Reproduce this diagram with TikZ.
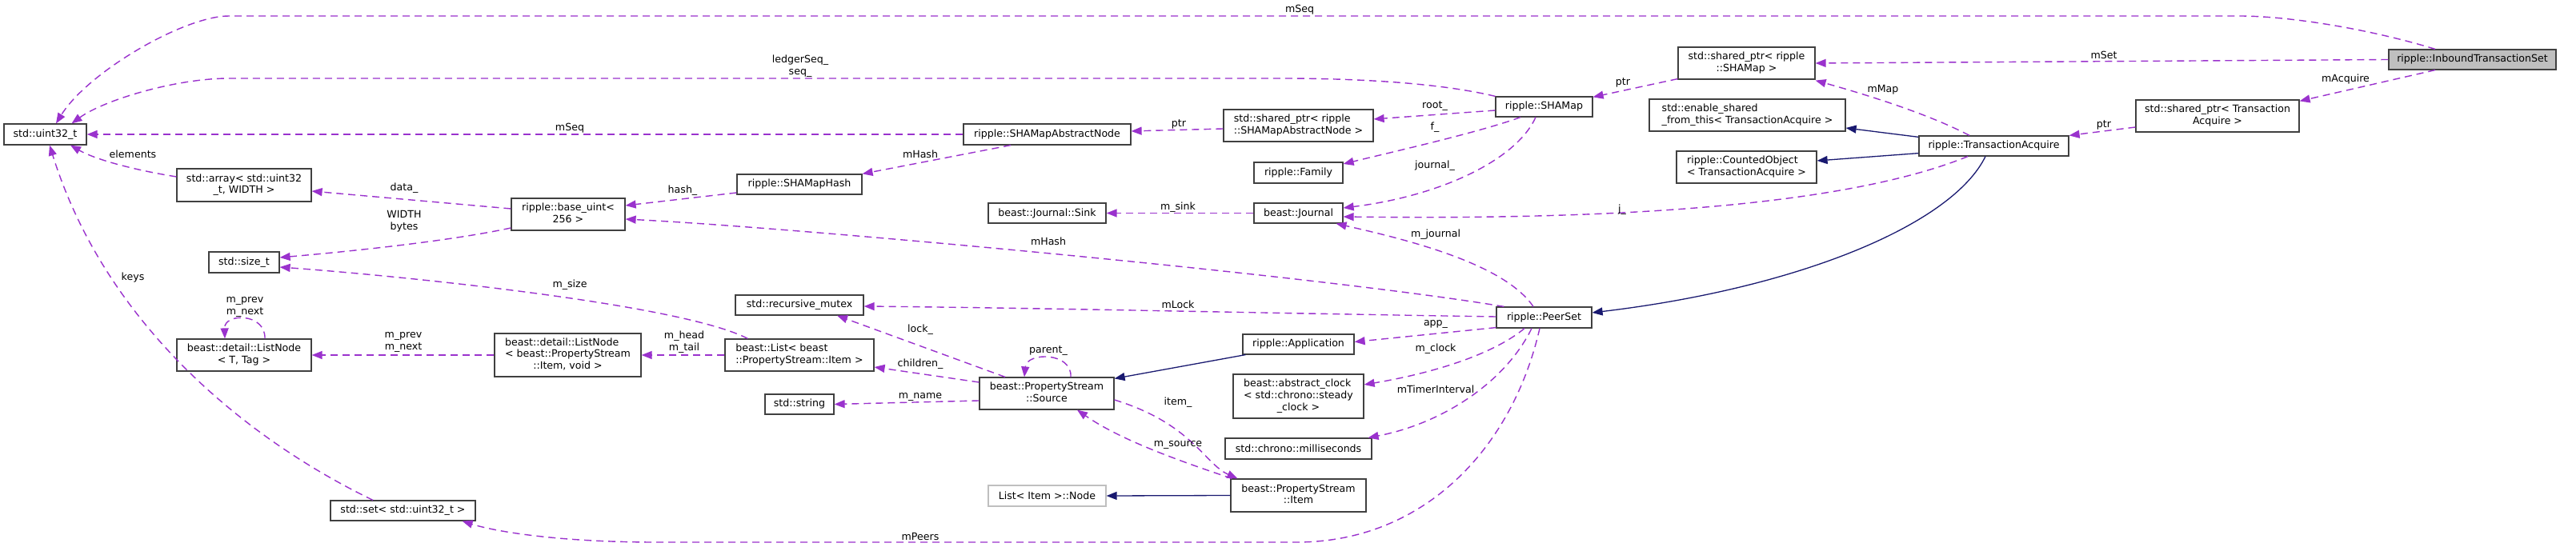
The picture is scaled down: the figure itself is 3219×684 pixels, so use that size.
\documentclass[tikz,border=0pt]{standalone}
\usepackage{fontspec}
\setmainfont{DejaVu Sans}
\usetikzlibrary{arrows.meta,calc}
\definecolor{purp}{HTML}{9A32CD}
\definecolor{navyc}{HTML}{191970}
\definecolor{boxc}{HTML}{404040}
\definecolor{grayfill}{HTML}{BFBFBF}
\newcommand\dfont{\fontsize{12.6}{14.7}\selectfont}
\newcommand\nlii[2]{\begin{tabular}{@{}l@{}}#1\\\multicolumn{1}{@{}c@{}}{#2}\end{tabular}}
\newcommand\nliii[3]{\begin{tabular}{@{}l@{}}#1\\#2\\\multicolumn{1}{@{}c@{}}{#3}\end{tabular}}
\begin{document}
\begin{tikzpicture}[x=1pt,y=-1pt,
 cls/.style={draw=boxc,line width=1.2pt,fill=white,inner sep=0pt,font=\dfont},
 sz/.style 2 args={minimum width=#1pt,minimum height=#2pt},
 dep/.style={draw=purp,line width=1.4pt,dash pattern=on 9pt off 6pt,-{Triangle[length=13pt,width=10pt]}},
 inh/.style={draw=navyc,line width=1.3pt,-{Triangle[length=13pt,width=10pt]}},
 lab/.style={font=\dfont,align=center,inner sep=0pt}]
\fill[white] (0,0) rectangle (3219,684);
\useasboundingbox (0,0) rectangle (3219,684);

% ---------- nodes ----------
\node[cls,sz={103}{26}] (uint32) at (56.5,168) {std::uint32\_t};
\node[cls,sz={168}{41}] (arr) at (305,231.5) {\nlii{std::array< std::uint32}{\_t, WIDTH >}};
\node[cls,sz={142}{40}] (baseuint) at (710,268) {\nlii{ripple::base\_uint<}{256 >}};
\node[cls,sz={88}{26}] (sizet) at (305,328) {std::size\_t};
\node[cls,sz={168}{40}] (lnT) at (305,444) {\nlii{beast::detail::ListNode}{< T, Tag >}};
\node[cls,sz={183}{54}] (lnItem) at (709.5,444) {\nliii{beast::detail::ListNode}{< beast::PropertyStream}{::Item, void >}};
\node[cls,sz={181}{25}] (stdset) at (503.5,638.5) {std::set< std::uint32\_t >};
\node[cls,sz={209}{26}] (abn) at (1308.5,168) {ripple::SHAMapAbstractNode};
\node[cls,sz={156}{25}] (shamaphash) at (999,230.5) {ripple::SHAMapHash};
\node[cls,sz={147}{25}] (sink) at (1308.5,266.5) {beast::Journal::Sink};
\node[cls,sz={187}{40}] (spabn) at (1622.5,157) {\nlii{std::shared\_ptr< ripple}{::SHAMapAbstractNode >}};
\node[cls,sz={111}{26}] (family) at (1622.5,216) {ripple::Family};
\node[cls,sz={111}{25}] (journal) at (1622.5,266.5) {beast::Journal};
\node[cls,sz={121}{25}] (shamap) at (1929.5,133.5) {ripple::SHAMap};
\node[cls,sz={171}{40}] (spshamap) at (2182.5,79) {\nlii{std::shared\_ptr< ripple}{::SHAMap >}};
\node[cls,sz={245}{40}] (esft) at (2183.5,144) {\nlii{std::enable\_shared}{\_from\_this< TransactionAcquire >}};
\node[cls,sz={175}{40}] (counted) at (2182.5,209) {\nlii{ripple::CountedObject}{< TransactionAcquire >}};
\node[cls,sz={187}{25}] (ta) at (2491.5,182.5) {ripple::TransactionAcquire};
\node[cls,sz={204}{40}] (spta) at (2771,145) {\nlii{std::shared\_ptr< Transaction}{Acquire >}};
\node[cls,sz={209}{25},fill=grayfill] (its) at (3089.5,74.5) {ripple::InboundTransactionSet};
\node[cls,sz={119}{26}] (peerset) at (1929.5,397) {ripple::PeerSet};
\node[cls,sz={160}{25}] (mutex) at (999,381.5) {std::recursive\_mutex};
\node[cls,sz={186}{40}] (list) at (999,444) {\nlii{beast::List< beast}{::PropertyStream::Item >}};
\node[cls,sz={168}{40}] (source) at (1308,492) {\nlii{beast::PropertyStream}{::Source}};
\node[cls,sz={86}{25}] (string) at (999,505.5) {std::string};
\node[cls,sz={139}{25}] (app) at (1622.5,430.5) {ripple::Application};
\node[cls,sz={163}{55}] (clock) at (1622.5,495.5) {\nliii{beast::abstract\_clock}{< std::chrono::steady}{\_clock >}};
\node[cls,sz={183}{26}] (ms) at (1622.5,561) {std::chrono::milliseconds};
\node[cls,sz={169}{41}] (item) at (1622.5,619.5) {\nlii{beast::PropertyStream}{::Item}};
\node[cls,sz={147}{26},draw=grayfill] (lnode) at (1308.5,620) {List< Item >::Node};

% ---------- connectors ----------
\draw[dep] ($(its.north)+(-46.5,0)$) .. controls (2960,36) and (2860,20) .. (2798,20) -- (286,20) .. controls (230,20) and (110,90) .. ($(uint32.north)+(13.5,0)$);
\draw[dep] (shamap.north west) .. controls (1800,104) and (1700,98) .. (1600,98) -- (286,98) .. controls (220,98) and (130,125) .. ($(uint32.north)+(33,0)$);
\draw[dep] (abn.west) -- (uint32.east);
\draw[dep] ($(arr.west)+(0,-10.5)$) .. controls (170,213) and (120,200) .. ($(uint32.south)+(31.5,0)$);
\draw[dep] ($(stdset.north)+(-37.5,0)$) .. controls (300,545) and (130,400) .. ($(uint32.south)+(5.5,0)$);
\draw[dep] ($(baseuint.west)+(0,-7)$) -- ($(arr.east)+(0,7.5)$);
\draw[dep] ($(baseuint.west)+(0,17)$) .. controls (560,302) and (430,315) .. ($(sizet.east)+(0,-6)$);
\draw[dep] ($(shamaphash.west)+(0,10.5)$) -- ($(baseuint.east)+(0,-11)$);
\draw[dep] ($(peerset.north west)+(10,0)$) .. controls (1650,345) and (1000,285) .. ($(baseuint.east)+(0,6)$);
\draw[dep] ($(abn.south)+(-45.5,0)$) -- (shamaphash.north east);
\draw[dep] ($(spabn.west)+(0,4)$) -- ($(abn.east)+(0,-4)$);
\draw[dep] ($(shamap.west)+(0,4.5)$) -- ($(spabn.east)+(0,-8)$);
\draw[dep] ($(shamap.south)+(-29.5,0)$) .. controls (1850,165) and (1740,190) .. ($(family.east)+(0,-11)$);
\draw[dep] ($(shamap.south)+(-10.5,0)$) .. controls (1895,200) and (1800,245) .. ($(journal.east)+(0,-6.5)$);
\draw[dep] (journal.west) -- (sink.east);
\draw[dep] ($(ta.south)+(-32.5,0)$) .. controls (2300,260) and (2000,275) .. ($(journal.east)+(0,4.5)$);
\draw[dep] ($(peerset.north)+(-13.5,0)$) .. controls (1880,330) and (1760,300) .. ($(journal.south)+(47,0)$);
\draw[dep] ($(spshamap.south west)+(0,-1)$) -- ($(shamap.north east)+(0,1)$);
\draw[dep] (its.west) -- (spshamap.east);
\draw[dep] ($(ta.north)+(-30.5,0)$) .. controls (2405,140) and (2320,115) .. ($(spshamap.south east)+(0,1)$);
\draw[dep] ($(its.south)+(-46.5,0)$) -- ($(spta.north east)+(0,2)$);
\draw[dep] ($(spta.west)+(0,14)$) -- (ta.north east);
\draw[inh] ($(ta.north west)+(0,2)$) -- ($(esft.east)+(0,16)$);
\draw[inh] ($(ta.south west)+(0,-4)$) -- ($(counted.east)+(0,-8)$);
\draw[inh] ($(ta.south)+(-10.5,0)$) .. controls (2440,280) and (2250,360) .. ($(peerset.east)+(0,-6)$);
\draw[dep] ($(peerset.west)+(0,-1)$) .. controls (1600,392) and (1300,385) .. ($(mutex.east)+(0,1.5)$);
\draw[dep] ($(peerset.south west)+(0,-1)$) -- ($(app.east)+(0,-3)$);
\draw[dep] ($(peerset.south)+(-24.5,0)$) .. controls (1870,440) and (1800,465) .. ($(clock.east)+(0,-14.5)$);
\draw[dep] ($(peerset.south)+(-15.5,0)$) .. controls (1880,480) and (1800,530) .. ($(ms.north east)+(-5,0)$);
\draw[dep] ($(peerset.south)+(-5.5,0)$) .. controls (1890,560) and (1780,678) .. (1620,678) -- (820,678) .. controls (700,678) and (620,665) .. ($(stdset.south east)+(-17,0)$);
\draw[inh] ($(app.south west)+(4,0)$) -- ($(source.north east)+(0,2)$);
\draw[dep] ($(source.north)+(-52,0)$) -- ($(mutex.south)+(47,0)$);
\draw[dep] ($(source.north)+(30,0)$) .. controls (1340,440) and (1283,440) .. ($(source.north)+(-28,0)$);
\draw[dep] ($(source.west)+(0,-14)$) -- ($(list.east)+(0,15)$);
\draw[dep] ($(source.west)+(0,9)$) -- (string.east);
\draw[dep] ($(source.east)+(0,8)$) .. controls (1490,530) and (1505,580) .. ($(item.north west)+(9,0)$);
\draw[dep] ($(item.north west)+(2,0)$) .. controls (1470,575) and (1400,550) .. ($(source.south)+(38,0)$);
\draw[inh] (item.west) -- (lnode.east);
\draw[dep] (list.west) -- (lnItem.east);
\draw[dep] (lnItem.west) -- (lnT.east);
\draw[dep] ($(lnT.north)+(26,0)$) .. controls (332,391) and (280,391) .. ($(lnT.north)+(-24,0)$);
\draw[dep] ($(list.north west)+(29,0)$) .. controls (850,380) and (500,345) .. ($(sizet.east)+(0,6)$);

% ---------- labels ----------
\node[lab] (l1) at (1624,12) {mSeq};
\node[lab] (l2) at (1000,83) {ledgerSeq\_\\seq\_};
\node[lab] (l3) at (712,160) {mSeq};
\node[lab] (l4) at (166,193) {elements};
\node[lab] (l5) at (166,347) {keys};
\node[lab] (l6) at (505,235) {data\_};
\node[lab] (l7) at (505,277) {WIDTH\\bytes};
\node[lab] (l8) at (853,238) {hash\_};
\node[lab] (l9) at (1310,302) {mHash};
\node[lab] (l10) at (1150,193) {mHash};
\node[lab] (l11) at (1473,155) {ptr};
\node[lab] (l12) at (1793,133) {root\_};
\node[lab] (l13) at (1793,159) {f\_};
\node[lab] (l14) at (1793,207) {journal\_};
\node[lab] (l15) at (1472,259) {m\_sink};
\node[lab] (l16) at (2027,262) {j\_};
\node[lab] (l17) at (1794,293) {m\_journal};
\node[lab] (l18) at (2028,103) {ptr};
\node[lab] (l19) at (2629,69) {mSet};
\node[lab] (l20) at (2353,112) {mMap};
\node[lab] (l21) at (2931,99) {mAcquire};
\node[lab] (l22) at (2629,156) {ptr};
\node[lab] (l23) at (1472,381) {mLock};
\node[lab] (l24) at (1794,405) {app\_};
\node[lab] (l25) at (1794,436) {m\_clock};
\node[lab] (l26) at (1794,487) {mTimerInterval};
\node[lab] (l27) at (1150,671) {mPeers};
\node[lab] (l28) at (1150,412) {lock\_};
\node[lab] (l29) at (1310,439) {parent\_};
\node[lab] (l30) at (1150,455) {children\_};
\node[lab] (l31) at (1150,496) {m\_name};
\node[lab] (l32) at (1472,503) {item\_};
\node[lab] (l33) at (1472,556) {m\_source};
\node[lab] (l34) at (855,428) {m\_head\\m\_tail};
\node[lab] (l35) at (504,428) {m\_prev\\m\_next};
\node[lab] (l36) at (306,384) {m\_prev\\m\_next};
\node[lab] (l37) at (712,356) {m\_size};
\end{tikzpicture}
\end{document}
